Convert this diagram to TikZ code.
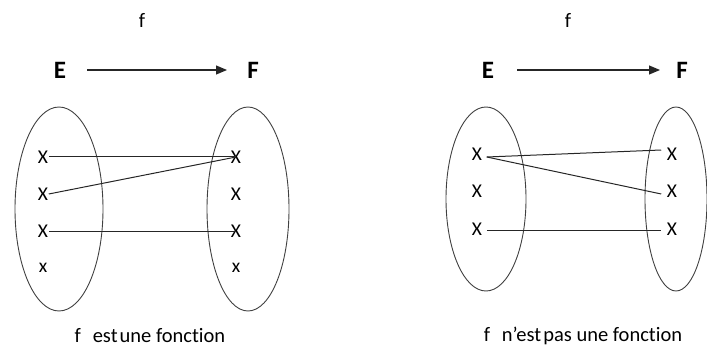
\documentclass[tikz,border=0pt]{standalone}
\usepackage{fontspec}
\setmainfont[Ligatures=NoCommon]{Carlito}
\usetikzlibrary{arrows.meta}
\begin{document}
\begin{tikzpicture}[x=1pt,y=-1pt,
  lbl/.style={font=\fontsize{20.5}{22}\selectfont, inner sep=0pt},
  setname/.style={font=\fontsize{25}{28}\selectfont\bfseries, inner sep=0pt},
  elem/.style={font=\fontsize{19.5}{21}\selectfont, inner sep=0.5pt},
  setshape/.style={draw=black!75, line width=0.9pt},
  link/.style={draw=black!85, line width=1pt},
  maparrow/.style={draw=black!85, line width=1.1pt, -{Triangle[length=11pt,width=9pt]}}]
\useasboundingbox (0,0) rectangle (707,350);
% ---------- left diagram ----------
\node[lbl] (fA) at (142,20) {f};
\node[setname] (EA) at (60,70) {E};
\node[setname] (FA) at (253,70) {F};
\coordinate (aA1) at (87,70);
\coordinate (aA2) at (227,70);
\draw[maparrow] (aA1) -- (aA2);
\draw[setshape] (59,209) ellipse [x radius=44, y radius=102];
\draw[setshape] (248,209) ellipse [x radius=41, y radius=102];
\node[elem] (l1) at (43,157) {X};
\node[elem] (l2) at (43,194) {X};
\node[elem] (l3) at (43,231) {X};
\node[elem] (l4) at (43,268) {x};
\node[elem] (r1) at (236,157) {X};
\node[elem] (r2) at (236,194) {X};
\node[elem] (r3) at (236,231) {X};
\node[elem] (r4) at (236,268) {x};
\draw[link] (l1.east) -- (r1.center);
\draw[link] (l2.east) -- (r1.center);
\draw[link] (l3.east) -- (r3.center);
\node[lbl] (capA) at (150,336) {f\hspace{0.35em} est\hspace{0.1em}une fonction};
% ---------- right diagram ----------
\node[lbl] (fB) at (568,20) {f};
\node[setname] (EB) at (488,70) {E};
\node[setname] (FB) at (682,70) {F};
\coordinate (aB1) at (517,70);
\coordinate (aB2) at (660,70);
\draw[maparrow] (aB1) -- (aB2);
\draw[setshape] (486,199) ellipse [x radius=40, y radius=92];
\draw[setshape] (676,199) ellipse [x radius=31, y radius=92];
\node[elem] (p1) at (477,154) {X};
\node[elem] (p2) at (477,191) {X};
\node[elem] (p3) at (477,229) {X};
\node[elem] (q1) at (672,154) {X};
\node[elem] (q2) at (672,191) {X};
\node[elem] (q3) at (672,229) {X};
\draw[link] ([xshift=4pt,yshift=-3pt]p1.east) -- ([xshift=-5pt,yshift=4pt]q1.west);
\draw[link] ([xshift=4pt,yshift=-3pt]p1.east) -- ([xshift=-5pt,yshift=-3pt]q2.west);
\draw[link] ([xshift=4pt,yshift=-1pt]p3.east) -- ([xshift=-5pt,yshift=-1pt]q3.west);
\node[lbl] (capB) at (583,336) {f\hspace{0.35em} n’est\hspace{0.1em}pas une fonction};
\end{tikzpicture}
\end{document}
